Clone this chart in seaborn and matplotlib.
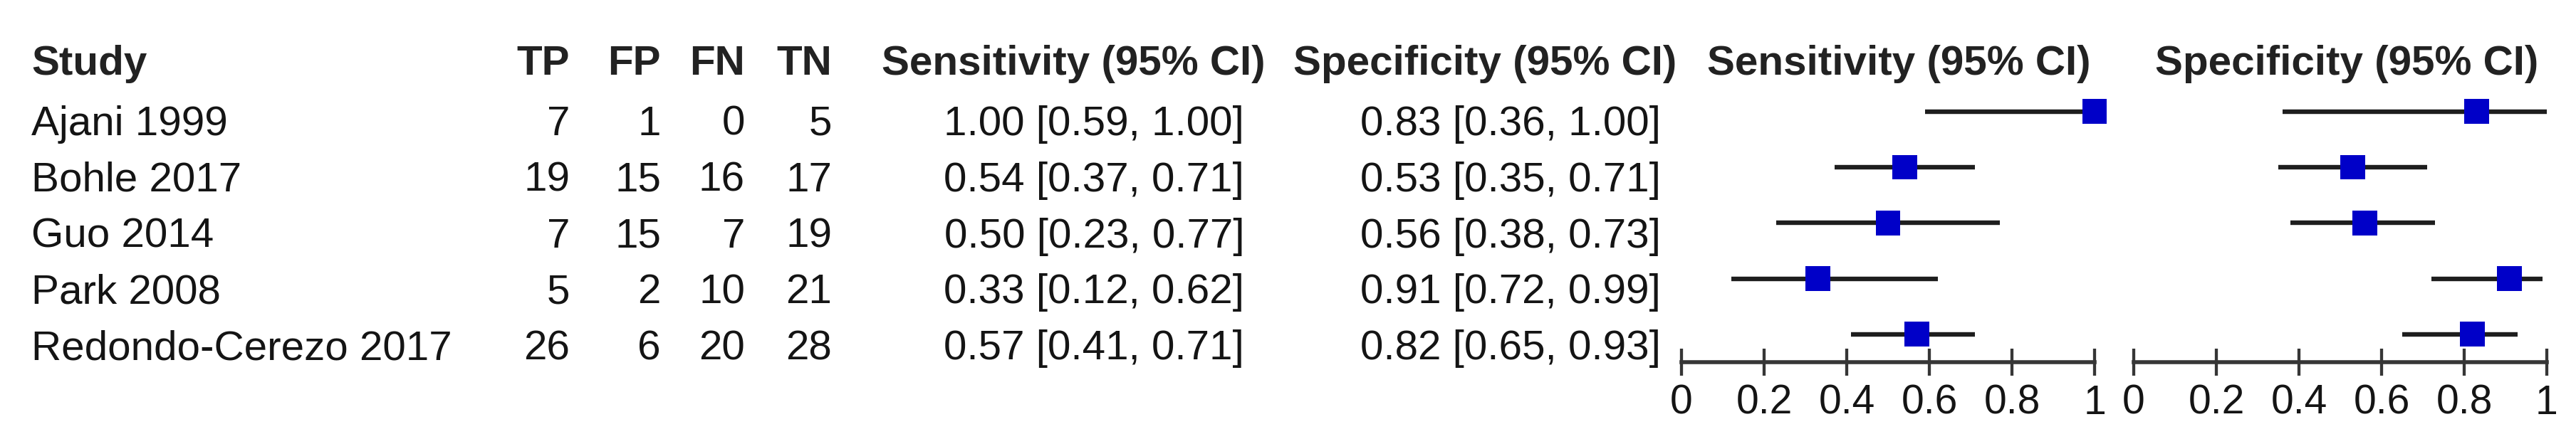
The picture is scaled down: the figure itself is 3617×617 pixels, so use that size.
import pandas as pd
import matplotlib
matplotlib.use('Agg')
import matplotlib.pyplot as plt
import seaborn as sns

# data
studies = ['Ajani 1999', 'Bohle 2017', 'Guo 2014', 'Park 2008', 'Redondo-Cerezo 2017']
tp = [7, 19, 7, 5, 26]
fp = [1, 15, 15, 2, 6]
fn = [0, 16, 7, 10, 20]
tn = [5, 17, 19, 21, 28]
sens = [1.00, 0.54, 0.50, 0.33, 0.57]
sens_lo = [0.59, 0.37, 0.23, 0.12, 0.41]
sens_hi = [1.00, 0.71, 0.77, 0.62, 0.71]
spec = [0.83, 0.53, 0.56, 0.91, 0.82]
spec_lo = [0.36, 0.35, 0.38, 0.72, 0.65]
spec_hi = [1.00, 0.71, 0.73, 0.99, 0.93]
axis_ticks = [0, 0.2, 0.4, 0.6, 0.8, 1]
axis_labels = ['0', '0.2', '0.4', '0.6', '0.8', '1']

sns.set_theme(style='white')
plt.rcParams['font.family'] = ['Liberation Sans', 'DejaVu Sans']

W, H = 3617, 617
fig = plt.figure(figsize=(W / 100, H / 100), dpi=100)

ROW0, ROWSTEP = 157, 78.75      # pixel centre of first row, row spacing
AXIS_Y = 509                    # pixel y of the bottom axis line
TXT = '#141414'
HEAD = '#222222'
LINE = '#1e1e1e'
AXC = '#363636'
BLUE = '#0000c8'
FS = 42

# text table drawn on a full-figure overlay in pixel units
ov = fig.add_axes([0, 0, 1, 1])
ov.set_xlim(0, W)
ov.set_ylim(H, 0)
ov.axis('off')

head_y = 105
ov.text(44, head_y, 'Study', fontsize=FS, fontweight='bold', color=HEAD, va='baseline', ha='left')
for lab, xr in zip(['TP', 'FP', 'FN', 'TN'], [800, 928, 1046, 1168]):
    ov.text(xr, head_y, lab, fontsize=FS, fontweight='bold', color=HEAD, va='baseline', ha='right')
ov.text(1238, head_y, 'Sensitivity (95% CI)', fontsize=FS, fontweight='bold', color=HEAD, va='baseline')
ov.text(1816, head_y, 'Specificity (95% CI)', fontsize=FS, fontweight='bold', color=HEAD, va='baseline')
ov.text(2397, head_y, 'Sensitivity (95% CI)', fontsize=FS, fontweight='bold', color=HEAD, va='baseline')
ov.text(3026, head_y, 'Specificity (95% CI)', fontsize=FS, fontweight='bold', color=HEAD, va='baseline')

for i, name in enumerate(studies):
    y = ROW0 + i * ROWSTEP + 33
    ov.text(44, y, name, fontsize=FS, color=TXT, va='baseline')
    for v, xr in zip([tp[i], fp[i], fn[i], tn[i]], [800, 928, 1046, 1168]):
        ov.text(xr, y, str(v), fontsize=FS, color=TXT, va='baseline', ha='right')
    ov.text(1747, y, f'{sens[i]:.2f} [{sens_lo[i]:.2f}, {sens_hi[i]:.2f}]',
            fontsize=FS, color=TXT, va='baseline', ha='right')
    ov.text(2332, y, f'{spec[i]:.2f} [{spec_lo[i]:.2f}, {spec_hi[i]:.2f}]',
            fontsize=FS, color=TXT, va='baseline', ha='right')

df = pd.DataFrame({'row': range(len(studies)), 'sens': sens, 'spec': spec,
                   'sens_lo': sens_lo, 'sens_hi': sens_hi,
                   'spec_lo': spec_lo, 'spec_hi': spec_hi})

top_px = ROW0 - ROWSTEP / 2
bottom_frac = 1 - AXIS_Y / H
height_frac = (AXIS_Y - top_px) / H


def forest(x_left, col):
    ax = fig.add_axes([x_left / W, bottom_frac, 580 / W, height_frac])
    ax.hlines(df['row'], df[col + '_lo'], df[col + '_hi'], color=LINE, lw=4.6, clip_on=False)
    sns.scatterplot(data=df, x=col, y='row', ax=ax, marker='s', s=630, color=BLUE,
                    edgecolor='none', linewidth=0, legend=False, clip_on=False, zorder=3)
    ax.set_xlim(0, 1)
    ax.set_ylim(len(studies) - 0.5, -0.5)
    ax.set_xticks(axis_ticks)
    ax.set_xticklabels(axis_labels)
    ax.set_yticks([])
    ax.set_xlabel('')
    ax.set_ylabel('')
    sns.despine(ax=ax, left=True)
    ax.spines['bottom'].set_color(AXC)
    ax.spines['bottom'].set_linewidth(4)
    ax.tick_params(axis='x', direction='inout', length=28, width=3.1, color=AXC,
                   labelsize=41, labelcolor=TXT, pad=8, bottom=True)
    ax.patch.set_alpha(0)
    return ax


forest(2361, 'sens')
forest(2996, 'spec')

fig.savefig('out.png', dpi=100, facecolor='white')
